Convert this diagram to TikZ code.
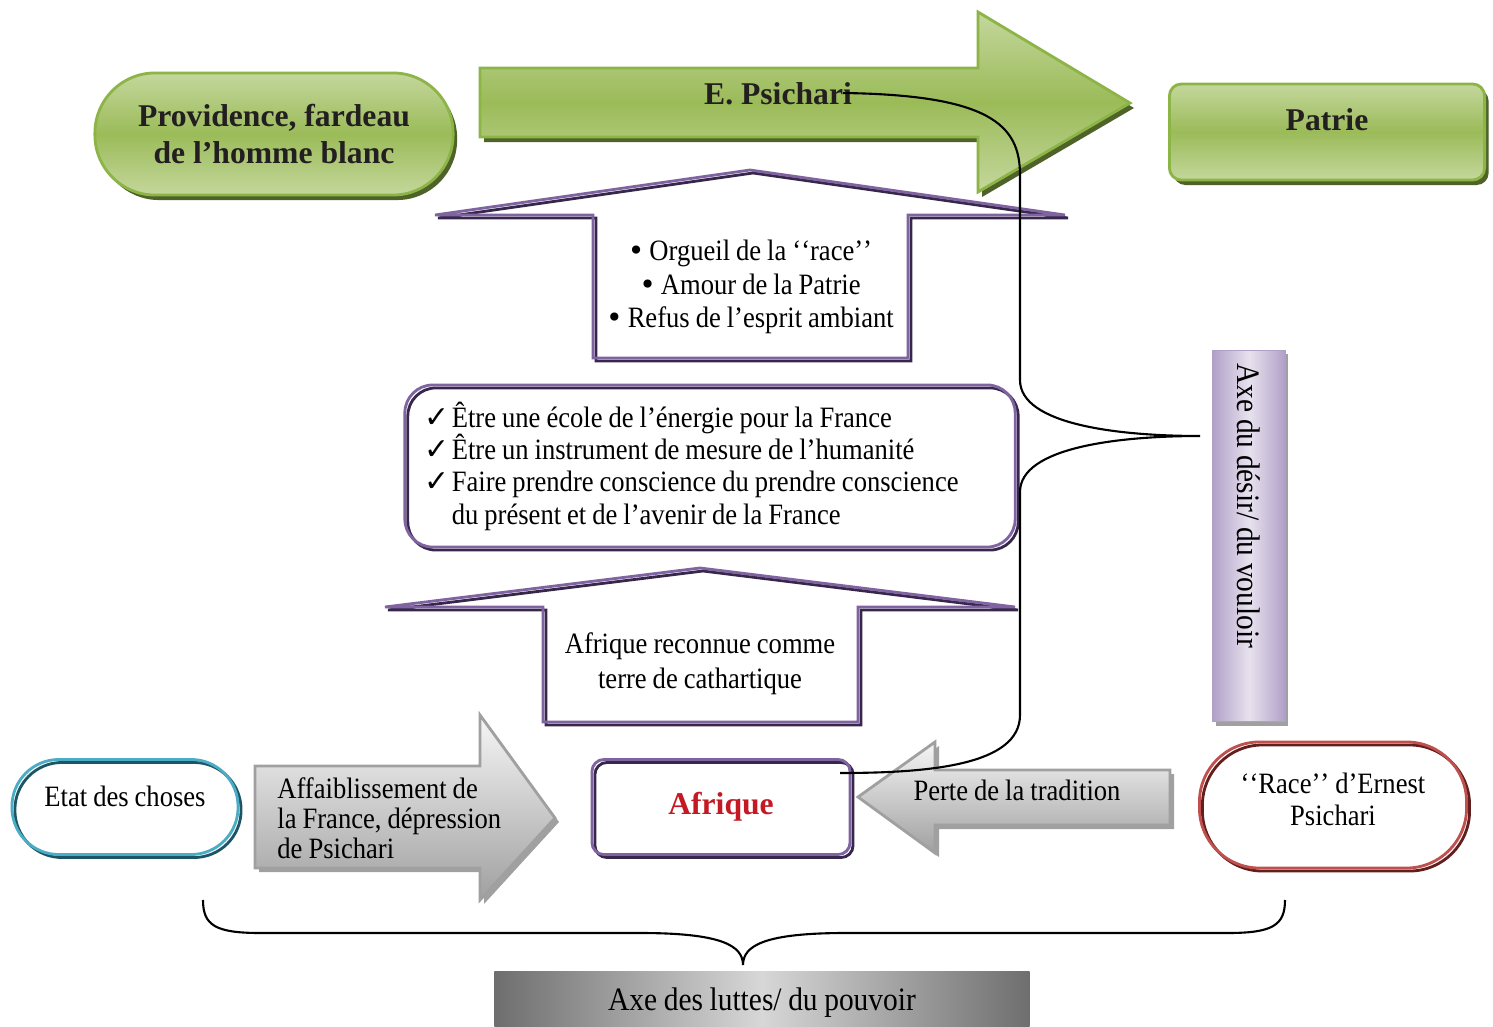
\documentclass[tikz,border=0pt]{standalone}
\usepackage{fontspec}
\setmainfont{Liberation Serif}[FakeStretch=0.9, WordSpace=0.9]
\newfontfamily\hdfont{Liberation Serif}
\newfontfamily\symfont{DejaVu Sans}
\usetikzlibrary{shadows}
\definecolor{grnlt}{RGB}{196,215,156}
\definecolor{grnmd}{RGB}{155,187,89}
\definecolor{grnln}{RGB}{141,180,70}
\definecolor{grndk}{RGB}{79,98,40}
\definecolor{vio}{RGB}{128,100,162}
\definecolor{viodk}{RGB}{55,40,75}
\definecolor{cyn}{RGB}{75,172,198}
\definecolor{cyndk}{RGB}{30,85,100}
\definecolor{rdl}{RGB}{192,80,77}
\definecolor{rdldk}{RGB}{99,30,30}
\definecolor{lav}{RGB}{232,226,238}
\definecolor{lavdk}{RGB}{176,160,200}
\definecolor{afred}{RGB}{196,25,35}
\definecolor{inkblk}{RGB}{35,31,32}
\definecolor{gryl}{RGB}{246,246,246}
\definecolor{grym}{RGB}{160,160,160}
\definecolor{gryd}{RGB}{110,110,110}
\definecolor{gryx}{RGB}{215,215,215}
\newcommand{\chk}{\makebox[0.27cm][l]{\symfont\fontsize{8.5}{8.5}\selectfont ✓}}
\newcommand{\bul}{{\symfont\fontsize{8}{8}\selectfont •}\,}
\tikzset{
  body/.style={font=\fontsize{8.4}{9.2}\selectfont, text=black},
  head/.style={font=\hdfont\bfseries\fontsize{9}{10.3}\selectfont, text=inkblk, align=center},
  greenbox/.style={top color=grnlt, bottom color=grnlt, middle color=grnmd, draw=grnln, line width=0.8pt,
    drop shadow={shadow xshift=0.04cm, shadow yshift=-0.05cm, fill=grndk, opacity=1}},
  dblline/.style={preaction={fill=white},
    preaction={draw=#1dk, line width=0.8pt, transform canvas={shift={(3,3)}}},
    draw=#1, line width=0.8pt},
  graybox/.style={top color=gryl, bottom color=grym, draw=grym, line width=0.8pt,
    drop shadow={shadow xshift=0.04cm, shadow yshift=-0.04cm, fill=grym, opacity=1}},
  lavbar/.style={left color=lavdk, right color=lavdk, middle color=lav, draw=lavdk, line width=0.5pt,
    drop shadow={shadow xshift=0.03cm, shadow yshift=-0.04cm, fill=grym, opacity=1}},
  steelbar/.style={left color=gryd, right color=gryd, middle color=gryx},
  brace/.style={draw=black, line width=0.6pt}
}
\begin{document}
\begin{tikzpicture}[x=0.01cm, y=-0.01cm]
\useasboundingbox (0,0) rectangle (1493,1027);
\fill[white] (0,0) rectangle (1493,1027);

\node[greenbox, rounded corners=0.6cm, minimum width=3.58cm, minimum height=1.22cm, head] (prov) at (274,134) {Providence, fardeau\\de l’homme blanc};
\path[greenbox] (480,68) -- (978,68) -- (978,12) -- (1130,103) -- (978,192) -- (978,137) -- (480,137) -- cycle;
\node[head] (psi) at (778,94) {E. Psichari};
\node[greenbox, rounded corners=0.12cm, minimum width=3.15cm, minimum height=0.96cm, head, text depth=0.25cm] (pat) at (1327,132) {Patrie};

\path[dblline=vio] (435,215) -- (750,170) -- (1065,215) -- (908,215) -- (908,358) -- (593,358) -- (593,215) -- cycle;
\node[body, align=center, font=\fontsize{8.4}{9.5}\selectfont] (pride) at (750,287) {\bul Orgueil de la ‘\kern0pt‘race’\kern0pt’\\\bul Amour de la Patrie\\\bul Refus de l’esprit ambiant};

\node[dblline=vio, rounded corners=0.28cm, minimum width=6.1cm, minimum height=1.62cm, body, text width=5.7cm, align=flush left, inner sep=0pt] (goals) at (710,466)
  {\chk Être une école de l’énergie pour la France\\\chk Être un instrument de mesure de l’humanité\\\chk Faire prendre conscience du prendre conscience\\\hspace*{0.27cm}du présent et de l’avenir de la France};

\path[dblline=vio] (385,607) -- (700,568) -- (1015,607) -- (858,607) -- (858,722) -- (543,722) -- (543,607) -- cycle;
\node[body, align=center, font=\fontsize{8.4}{10}\selectfont] (cath) at (700,664) {Afrique reconnue comme\\terre de cathartique};

\node[lavbar, minimum width=0.72cm, minimum height=3.71cm, font=\fontsize{9.3}{10}\selectfont] (desir) at (1249,536) {\rotatebox{-90}{\makebox[3.45cm][l]{Axe du désir/ du vouloir}}};

\node[dblline=cyn, rounded corners=0.47cm, minimum width=2.26cm, minimum height=0.95cm, body, text depth=0.22cm] (etat) at (125,807) {Etat des choses};
\path[graybox] (255,766) -- (480,766) -- (480,715) -- (555,818) -- (480,900) -- (480,868) -- (255,868) -- cycle;
\node[body, align=left, anchor=west, font=\fontsize{8.4}{8.6}\selectfont] (weak) at (265,818) {Affaiblissement de\\la France, dépression\\de Psichari};
\node[dblline=vio, rounded corners=0.12cm, minimum width=2.58cm, minimum height=0.95cm, head, text=afred] (afr) at (721,807) {Afrique};
\path[graybox] (1170,770) -- (935,770) -- (935,742) -- (858,797) -- (935,853) -- (935,825) -- (1170,825) -- cycle;
\node[body] (loss) at (1017,790) {Perte de la tradition};
\node[dblline=rdl, rounded corners=0.6cm, minimum width=2.67cm, minimum height=1.26cm, body, align=center, text depth=0.12cm] (race) at (1333,805) {‘\kern0pt‘Race’\kern0pt’ d’Ernest\\Psichari};

\node[steelbar, minimum width=5.35cm, minimum height=0.62cm, font=\fontsize{9.3}{10}\selectfont] (lutte) at (762,1003) {Axe des luttes/ du pouvoir};

\coordinate (btop) at (843,93);
\coordinate (bbot) at (840,773);
\draw[brace] (btop) .. controls (990,95) and (1020,125) .. (1020,175) -- (1020,380)
  .. controls (1020,425) and (1120,436) .. (1200,436)
  .. controls (1120,436) and (1020,447) .. (1020,492) -- (1020,715)
  .. controls (1020,765) and (930,773) .. (bbot);
\draw[brace] (203,900) .. controls (203,925) and (215,933) .. (260,933) -- (640,933)
  .. controls (720,933) and (743,945) .. (743,965)
  .. controls (743,945) and (766,933) .. (846,933) -- (1228,933)
  .. controls (1273,933) and (1285,925) .. (1285,900);
\end{tikzpicture}
\end{document}
